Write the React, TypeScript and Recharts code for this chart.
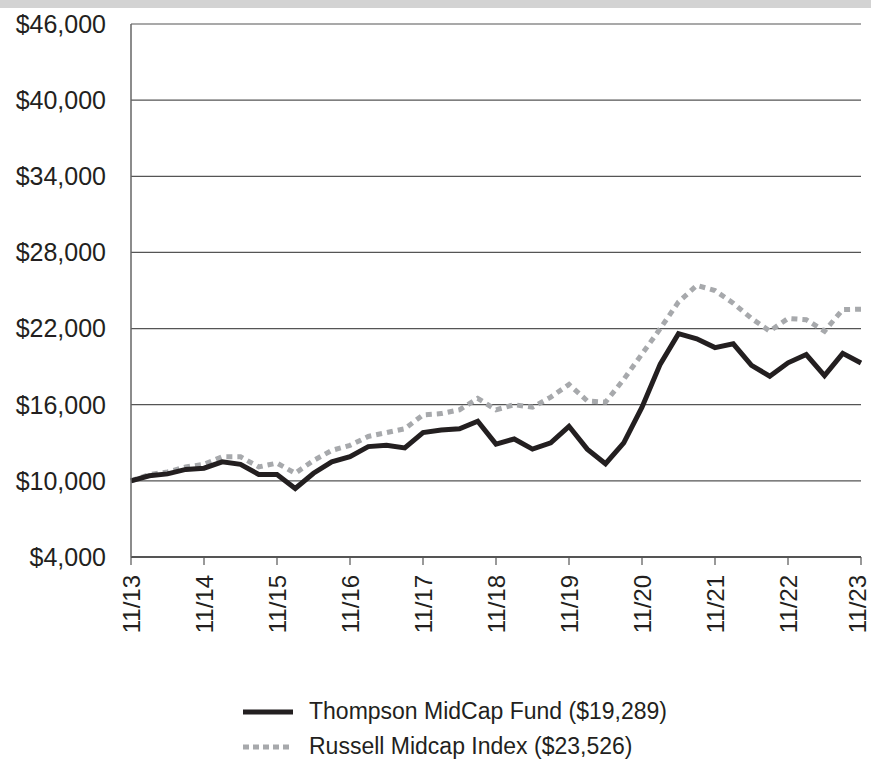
import React from 'react';
import { LineChart, Line, XAxis, YAxis, CartesianGrid } from 'recharts';

const quarters = [
  '11/13', '2/14', '5/14', '8/14', '11/14', '2/15', '5/15', '8/15', '11/15', '2/16', '5/16', '8/16',
  '11/16', '2/17', '5/17', '8/17', '11/17', '2/18', '5/18', '8/18', '11/18', '2/19', '5/19', '8/19',
  '11/19', '2/20', '5/20', '8/20', '11/20', '2/21', '5/21', '8/21', '11/21', '2/22', '5/22', '8/22',
  '11/22', '2/23', '5/23', '8/23', '11/23',
];

const thompson = [
  10000, 10400, 10550, 10900, 11000, 11500, 11300, 10500, 10500, 9400, 10600, 11500,
  11900, 12700, 12800, 12600, 13800, 14000, 14100, 14700, 12900, 13300, 12500, 13000,
  14300, 12500, 11350, 13000, 15800, 19200, 21600, 21200, 20500, 20800, 19100, 18250,
  19300, 19950, 18300, 20050, 19289,
];

const russell = [
  10000, 10500, 10700, 11100, 11300, 11900, 11900, 11100, 11400, 10600, 11600, 12400,
  12800, 13500, 13800, 14100, 15200, 15300, 15600, 16500, 15600, 16000, 15800, 16600,
  17600, 16300, 16200, 18000, 20000, 22000, 24100, 25400, 25000, 24000, 22800, 21800,
  22800, 22700, 21800, 23500, 23526,
];

const yTicks = [4000, 10000, 16000, 22000, 28000, 34000, 40000, 46000];
const xTickLabels = ['11/13', '11/14', '11/15', '11/16', '11/17', '11/18', '11/19', '11/20', '11/21', '11/22', '11/23'];

const seriesNames = ['Thompson MidCap Fund ($19,289)', 'Russell Midcap Index ($23,526)'];

const data = quarters.map((q, i) => ({ idx: i, label: q, thompson: thompson[i], russell: russell[i] }));
const xTicks = xTickLabels.map((l) => quarters.indexOf(l));

const FONT = '"Liberation Sans", Arial, sans-serif';
const TEXT = '#231f20';

const XTick = (props: any) => {
  const { x, y, payload } = props;
  const tx = Math.min(x, 857);
  return (
    <text
      x={tx}
      y={y}
      transform={`rotate(-90, ${tx}, ${y})`}
      textAnchor="end"
      dominantBaseline="central"
      fontSize={24}
      fill={TEXT}
      fontFamily={FONT}
    >
      {quarters[payload.value]}
    </text>
  );
};

export default function App() {
  return (
    <div style={{ position: 'absolute', left: 0, top: 0, width: 871, height: 765, background: '#fff', fontFamily: FONT }}>
      <div style={{ position: 'absolute', left: 0, top: 0, width: 871, height: 8, background: '#d3d3d3' }} />
      <LineChart width={871} height={765} data={data} margin={{ top: 24, right: 10, bottom: 0, left: 8 }}>
        <CartesianGrid horizontal={true} vertical={false} stroke="#555" strokeWidth={1.2} />
        <XAxis
          dataKey="idx"
          type="number"
          domain={[0, 40]}
          ticks={xTicks}
          interval={0}
          height={208}
          tickSize={8}
          tickMargin={10}
          stroke="#555"
          strokeWidth={2}
          tickLine={{ stroke: '#555', strokeWidth: 1.2 }}
          tick={<XTick />}
        />
        <YAxis
          domain={[4000, 46000]}
          ticks={yTicks}
          interval={0}
          width={123}
          tickSize={0}
          tickMargin={25}
          stroke="#666"
          strokeWidth={1.5}
          tick={{ fontSize: 25, fill: TEXT, fontFamily: FONT }}
          tickFormatter={(v: number) => '$' + v.toLocaleString('en-US')}
        />
        <YAxis
          yAxisId="right"
          orientation="right"
          domain={[4000, 46000]}
          width={0}
          tick={false}
          tickLine={false}
          stroke="#888"
          strokeWidth={2}
        />
        <Line
          dataKey="russell"
          type="linear"
          stroke="#a7a9ac"
          strokeWidth={5}
          strokeDasharray="6 5"
          dot={false}
          isAnimationActive={false}
        />
        <Line
          dataKey="thompson"
          type="linear"
          stroke={TEXT}
          strokeWidth={5}
          dot={false}
          isAnimationActive={false}
        />
      </LineChart>
      <div style={{ position: 'absolute', left: 243, top: 694, fontSize: 23, color: TEXT, lineHeight: '35px' }}>
        <div style={{ display: 'flex', alignItems: 'center' }}>
          <svg width={50} height={10} style={{ marginRight: 16 }}>
            <line x1={0} y1={5} x2={50} y2={5} stroke={TEXT} strokeWidth={5} />
          </svg>
          <span>{seriesNames[0]}</span>
        </div>
        <div style={{ display: 'flex', alignItems: 'center' }}>
          <svg width={50} height={10} style={{ marginRight: 16 }}>
            <line x1={0} y1={5} x2={50} y2={5} stroke="#a7a9ac" strokeWidth={5} strokeDasharray="6 4" />
          </svg>
          <span>{seriesNames[1]}</span>
        </div>
      </div>
    </div>
  );
}
